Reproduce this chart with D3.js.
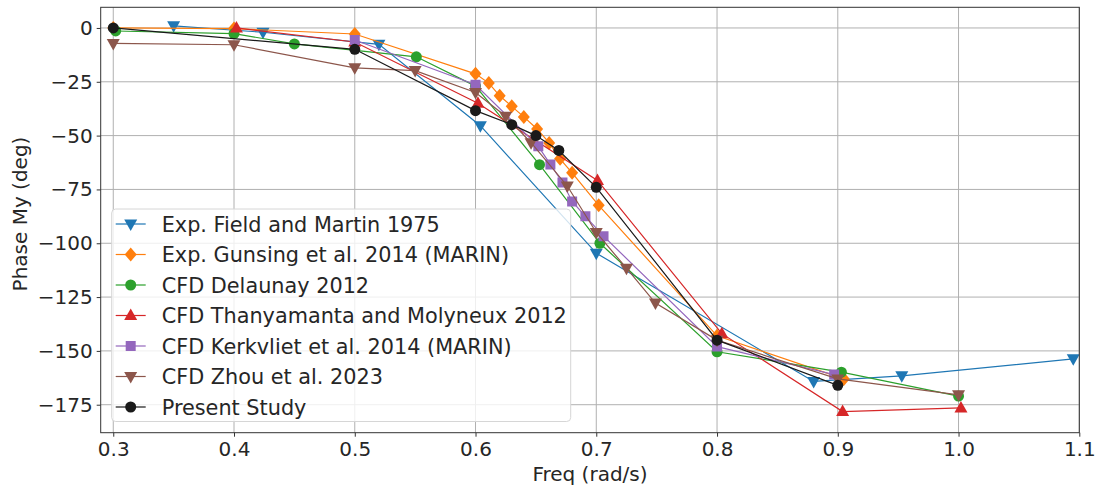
<!DOCTYPE html>
<html>
<head>
<meta charset="utf-8">
<script src="https://cdn.jsdelivr.net/npm/d3@7"></script>
<style>
  body { margin: 0; background: #fff; }
  svg text { font-family: "DejaVu Sans", sans-serif; fill: #262626; }
</style>
</head>
<body>
<svg id="chart" width="1102" height="490"></svg>
<script>
// series data: frequency (rad/s) and phase (deg)
var fieldFreq = [0.35, 0.424, 0.52, 0.604, 0.70, 0.88, 0.953, 1.095];
var fieldPhase = [1, -2, -7.6, -45.4, -104.6, -164.2, -161.6, -153.7];

var gunsingFreq = [0.3, 0.4, 0.5, 0.60, 0.611, 0.620, 0.630, 0.640, 0.651, 0.661, 0.670, 0.680, 0.702, 0.80, 0.905];
var gunsingPhase = [0, -0.3, -2.8, -21.3, -25.6, -31.5, -36.4, -41.3, -46.9, -53.4, -60.8, -67.3, -82.4, -143, -163];

var delaunayFreq = [0.302, 0.40, 0.45, 0.551, 0.60, 0.653, 0.703, 0.80, 0.903, 1.0];
var delaunayPhase = [-1.4, -2.6, -7.4, -13.4, -27, -63.5, -100, -150.4, -159.9, -171];

var thanyFreq = [0.402, 0.5, 0.602, 0.701, 0.804, 0.904, 1.002];
var thanyPhase = [0, -6.5, -35, -70.8, -142, -178.2, -176.5];

var kerkFreq = [0.5, 0.60, 0.652, 0.662, 0.672, 0.68, 0.691, 0.706, 0.80, 0.897];
var kerkPhase = [-5.6, -26.4, -55, -63.4, -71.8, -80.6, -87.5, -96.7, -148, -161];

var zhouFreq = [0.3, 0.4, 0.5, 0.55, 0.60, 0.625, 0.646, 0.676, 0.70, 0.725, 0.749, 0.80, 0.90, 1.0];
var zhouPhase = [-7.2, -7.8, -18.5, -19.8, -30, -41, -53.3, -73.4, -95, -111.6, -127.8, -145, -163, -170.4];

var presentFreq = [0.3, 0.5, 0.60, 0.63, 0.65, 0.669, 0.70, 0.80, 0.90];
var presentPhase = [0, -9.9, -38.4, -44.9, -50, -56.9, -74, -145, -166];

var seriesNames = [
  'Exp. Field and Martin 1975',
  'Exp. Gunsing et al. 2014 (MARIN)',
  'CFD Delaunay 2012',
  'CFD Thanyamanta and Molyneux 2012',
  'CFD Kerkvliet et al. 2014 (MARIN)',
  'CFD Zhou et al. 2023',
  'Present Study'
];
var seriesColors = ['#1f77b4', '#ff7f0e', '#2ca02c', '#d62728', '#9467bd', '#8c564b', '#1a1a1a'];
var seriesMarkers = ['triDown', 'diamond', 'circle', 'triUp', 'square', 'triDown', 'circle'];

var xTicks = [0.3, 0.4, 0.5, 0.6, 0.7, 0.8, 0.9, 1.0, 1.1];
var yTicks = [0, -25, -50, -75, -100, -125, -150, -175];

var xs = [fieldFreq, gunsingFreq, delaunayFreq, thanyFreq, kerkFreq, zhouFreq, presentFreq];
var ys = [fieldPhase, gunsingPhase, delaunayPhase, thanyPhase, kerkPhase, zhouPhase, presentPhase];

var series = seriesNames.map(function(name, i) {
  return {
    name: name,
    color: seriesColors[i],
    marker: seriesMarkers[i],
    points: xs[i].map(function(f, j) { return { f: f, p: ys[i][j] }; })
  };
});

var svg = d3.select('#chart');
var plot = { left: 100.7, right: 1079.3, top: 7.3, bottom: 432.7 };
var fontSize = 20;

var x = d3.scaleLinear().domain([0.2896, 1.1]).range([plot.left, plot.right]);
var y = d3.scaleLinear().domain([9.6, -188]).range([plot.top, plot.bottom]);

var fmtMinus = function(v) { return String(v).replace('-', '\u2212'); };

// grid
var grid = svg.append('g').attr('class', 'grid');
grid.selectAll('line.gx').data(xTicks).enter().append('line')
  .attr('x1', function(d) { return x(d); }).attr('x2', function(d) { return x(d); })
  .attr('y1', plot.top).attr('y2', plot.bottom)
  .attr('stroke', '#b0b0b0').attr('stroke-width', 1);
grid.selectAll('line.gy').data(yTicks).enter().append('line')
  .attr('y1', function(d) { return y(d); }).attr('y2', function(d) { return y(d); })
  .attr('x1', plot.left).attr('x2', plot.right)
  .attr('stroke', '#b0b0b0').attr('stroke-width', 1);

// axes
var xAxis = d3.axisBottom(x).tickValues(xTicks).tickSize(4).tickPadding(5)
  .tickFormat(function(d) { return d3.format('.1f')(d); });
var yAxis = d3.axisLeft(y).tickValues(yTicks).tickSize(4).tickPadding(4)
  .tickFormat(fmtMinus);

var gx = svg.append('g').attr('transform', 'translate(0,' + plot.bottom + ')').call(xAxis);
var gy = svg.append('g').attr('transform', 'translate(' + plot.left + ',0)').call(yAxis);
[gx, gy].forEach(function(g) {
  g.select('.domain').remove();
  g.selectAll('.tick line').attr('stroke', '#333');
  g.selectAll('.tick text').attr('font-size', fontSize).style('fill', '#262626')
    .attr('font-family', '"DejaVu Sans", sans-serif');
});

// marker symbols
function markerPath(type) {
  if (type === 'circle') return d3.symbol(d3.symbolCircle, 95)();
  if (type === 'square') return d3.symbol(d3.symbolSquare, 100)();
  if (type === 'diamond') return 'M0,-7L6,0L0,7L-6,0Z';
  if (type === 'triUp') return 'M0,-7L6.5,4.5L-6.5,4.5Z';
  if (type === 'triDown') return 'M0,7L6.5,-4.5L-6.5,-4.5Z';
  return d3.symbol(d3.symbolCircle, 60)();
}

var line = d3.line().x(function(d) { return x(d.f); }).y(function(d) { return y(d.p); });

svg.append('clipPath').attr('id', 'plotClip').append('rect')
  .attr('x', plot.left).attr('y', plot.top)
  .attr('width', plot.right - plot.left).attr('height', plot.bottom - plot.top);

var marks = svg.append('g').attr('clip-path', 'url(#plotClip)');
series.forEach(function(s) {
  var g = marks.append('g').attr('class', 'series');
  g.append('path').datum(s.points)
    .attr('d', line).attr('fill', 'none')
    .attr('stroke', s.color).attr('stroke-width', 1.2);
  g.selectAll('path.mk').data(s.points).enter().append('path')
    .attr('class', 'mk')
    .attr('d', markerPath(s.marker))
    .attr('transform', function(d) { return 'translate(' + x(d.f) + ',' + y(d.p) + ')'; })
    .attr('fill', s.color);
});

// spines
svg.append('rect')
  .attr('x', plot.left).attr('y', plot.top)
  .attr('width', plot.right - plot.left).attr('height', plot.bottom - plot.top)
  .attr('fill', 'none').attr('stroke', '#333').attr('stroke-width', 1);

// axis labels
svg.append('text').attr('x', (plot.left + plot.right) / 2).attr('y', 481)
  .attr('text-anchor', 'middle').attr('font-size', fontSize).text('Freq (rad/s)');
svg.append('text')
  .attr('transform', 'translate(27,214) rotate(-90)')
  .attr('text-anchor', 'middle').attr('font-size', fontSize).text('Phase My (deg)');

// legend
var legend = svg.append('g').attr('transform', 'translate(111.7,209)');
legend.append('rect')
  .attr('width', 459).attr('height', 212.5).attr('rx', 4)
  .attr('fill', 'rgba(255,255,255,0.8)').attr('stroke', '#d6d6d6').attr('stroke-width', 1);
var rowH = 30.5;
var items = legend.selectAll('g.item').data(series).enter().append('g')
  .attr('transform', function(d, i) { return 'translate(0,' + (15 + i * rowH) + ')'; });
items.append('line').attr('x1', 4).attr('x2', 34).attr('y1', 0).attr('y2', 0)
  .attr('stroke', function(d) { return d.color; }).attr('stroke-width', 1.2);
items.append('path')
  .attr('d', function(d) { return markerPath(d.marker); })
  .attr('transform', 'translate(19,0)')
  .attr('fill', function(d) { return d.color; });
items.append('text').attr('x', 50).attr('y', 0).attr('dy', '0.36em')
  .attr('font-size', 20.8).text(function(d) { return d.name; });
</script>
</body>
</html>
